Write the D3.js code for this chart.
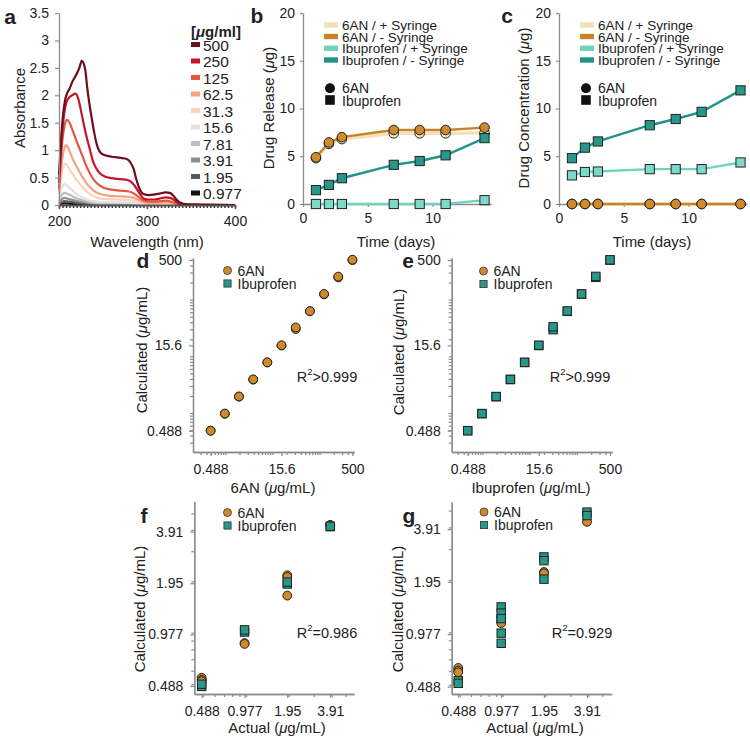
<!DOCTYPE html>
<html><head><meta charset="utf-8">
<script src="https://cdn.jsdelivr.net/npm/d3@7"></script>
<style>body{margin:0;background:#fff}</style>
</head><body>
<script>
// ---------------- DATA ----------------
// Panel a: absorbance spectra [wavelength nm, absorbance]
const concLabels = ["500","250","125","62.5","31.3","15.6","7.81","3.91","1.95","0.977"];
const spec500 = [[200,0.55],[201.5,0.95],[203,1.35],[205,1.7],[207,1.92],[209,2.03],[212,2.12],[215,2.24],[218,2.33],[221,2.42],[223.5,2.52],[225.8,2.63],[228,2.58],[230,2.45],[232,2.15],[234.5,1.85],[237,1.6],[240,1.32],[243,1.1],[246,0.98],[250,0.92],[260,0.88],[270,0.86],[277,0.84],[281,0.78],[285,0.65],[288,0.46],[292,0.28],[296,0.2],[302,0.18],[308,0.19],[315,0.21],[321,0.23],[326,0.22],[330,0.17],[334,0.09],[338,0.04],[345,0.01],[360,0.005],[400,0]];
const spec250 = [[200,0.4],[202,0.95],[205,1.55],[208,1.85],[211,1.95],[215,2.0],[219,2.03],[222,1.93],[225,1.72],[228,1.48],[232,1.2],[235,1.02],[239,0.78],[243,0.65],[247,0.57],[252,0.52],[260,0.49],[270,0.47],[277,0.46],[282,0.42],[286,0.35],[292,0.2],[296,0.12],[302,0.1],[308,0.1],[315,0.12],[321,0.14],[326,0.13],[330,0.1],[335,0.04],[340,0.01],[400,0]];
const spec125 = [[200,0.3],[202,0.8],[204,1.2],[206,1.42],[209,1.55],[212,1.5],[215,1.38],[218,1.25],[222,1.08],[226,0.92],[230,0.75],[235,0.58],[240,0.45],[245,0.37],[250,0.32],[260,0.28],[270,0.26],[278,0.25],[284,0.22],[290,0.15],[296,0.08],[305,0.06],[315,0.07],[322,0.08],[328,0.06],[335,0.02],[345,0.005],[400,0]];
const spec62 = [[200,0.25],[202,0.6],[204,0.88],[206,1.03],[208,1.09],[211,1.02],[214,0.9],[218,0.76],[222,0.64],[227,0.5],[232,0.38],[238,0.28],[245,0.21],[252,0.18],[265,0.16],[278,0.15],[285,0.13],[292,0.08],[300,0.04],[315,0.04],[322,0.05],[330,0.03],[340,0.005],[400,0]];
const spec31 = [[200,0.2],[202,0.45],[204,0.65],[207,0.75],[210,0.7],[214,0.6],[218,0.5],[223,0.4],[228,0.3],[235,0.2],[242,0.14],[250,0.11],[265,0.1],[280,0.09],[287,0.07],[295,0.03],[305,0.02],[322,0.025],[335,0.01],[400,0]];
const spec15 = [[200,0.12],[203,0.3],[206,0.38],[210,0.34],[215,0.27],[220,0.2],[226,0.14],[233,0.09],[242,0.06],[255,0.05],[280,0.045],[292,0.02],[310,0.01],[400,0]];
const spec7 = [[200,0.07],[203,0.18],[206,0.22],[210,0.2],[215,0.16],[222,0.11],[230,0.07],[240,0.04],[260,0.03],[285,0.025],[300,0.005],[400,0]];
const spec3 = [[200,0.04],[203,0.1],[206,0.13],[211,0.11],[218,0.08],[228,0.05],[240,0.025],[270,0.015],[300,0.005],[400,0]];
const spec1 = [[200,0.02],[203,0.05],[206,0.07],[212,0.06],[222,0.035],[235,0.015],[270,0.008],[300,0],[400,0]];
const spec0 = [[200,0.01],[206,0.03],[215,0.02],[230,0.008],[260,0.004],[300,0],[400,0]];
const spectra = [spec500,spec250,spec125,spec62,spec31,spec15,spec7,spec3,spec1,spec0];
const specColors = ["#6e0d1d","#c3162d","#e1583f","#f5a380","#fcd3be","#e2e2e2","#bdbdbd","#8f8f8f","#5a5a5a","#111111"];
const absTicks = [0,0.5,1,1.5,2,2.5,3,3.5];
const wlTicks = [200,300,400];

// Panels b, c: time course
const days = [1,2,3,7,9,11,14];
const rel6anPlus  = [4.8,6.3,6.8,7.4,7.4,7.4,7.45];
const rel6anMinus = [4.9,6.45,7.0,7.75,7.75,7.75,8.0];
const relIbuPlus  = [0,0,0,0,0,0,0.4];
const relIbuMinus = [1.45,2.0,2.7,4.1,4.5,5.1,6.9];
const con6anPlus  = [0,0,0,0,0,0,0];
const con6anMinus = [0,0,0,0,0,0,0];
const conIbuPlus  = [3.0,3.35,3.4,3.65,3.65,3.65,4.35];
const conIbuMinus = [4.8,5.9,6.55,8.25,8.9,9.65,11.9];
const seriesNames = ["6AN / + Syringe","6AN / - Syringe","Ibuprofen / + Syringe","Ibuprofen / - Syringe"];
const timeTicks = [0,5,10];
const drugTicks = [0,5,10,15,20];

// Panels d, e: standard curves
const stdConc = [0.488,0.977,1.95,3.91,7.81,15.6,31.3,62.5,125,250,500];
const d6anRep1 = [0.49,0.97,1.95,3.88,7.8,15.5,30.3,62.3,124,246,498];
const d6anRep2 = [0.487,0.98,1.96,3.93,7.83,15.7,32.3,62.8,126,255,505];
const eIbuRep1 = [0.49,0.975,1.94,3.9,7.8,15.5,29.5,62,125,247,497];
const eIbuRep2 = [0.488,0.98,1.96,3.92,7.82,15.7,33.2,63,126,257,503];
const stdTickVals = [0.488,15.6,500];
const stdTickLabels = ["0.488","15.6","500"];

// Panels f, g: low concentration accuracy
const f6anActual = [0.488,0.488,0.488,0.977,0.977,1.95,1.95,1.95,3.91,3.91];
const f6anCalc   = [0.545,0.53,0.52,0.87,0.86,2.17,2.12,1.65,4.28,4.25];
const fIbuActual = [0.488,0.488,0.977,0.977,1.95,1.95,3.91,3.91];
const fIbuCalc   = [0.485,0.5,1.01,1.04,1.93,1.98,4.18,4.2];
const g6anActual = [0.488,0.488,0.488,0.977,0.977,0.977,1.95,1.95,3.91];
const g6anCalc   = [0.625,0.604,0.59,1.22,1.17,1.13,2.22,2.18,4.31];
const gIbuActual = [0.488,0.488,0.977,0.977,0.977,0.977,0.977,1.95,1.95,1.95,3.91,3.91];
const gIbuCalc   = [0.528,0.51,1.4,1.29,1.2,0.99,0.866,2.71,2.58,2.02,4.9,4.68];
const lowTickVals = [0.488,0.977,1.95,3.91];
const lowTickLabels = ["0.488","0.977","1.95","3.91"];

// ---------------- STYLE ----------------
const FONT = "'Liberation Sans', Arial, Helvetica, sans-serif";
const AXC = "#8c8c8c", TXT = "#222";
const C6 = "#d08a2c", C6pale = "#f5e3c4", CI = "#27978a", CIpale = "#7fd9c8";
const C6line = "#c98326", C6paleLine = "#f4dfb8", CIline = "#1f958a", CIpaleLine = "#6fd3c0";

const svg = d3.select("body").append("svg").attr("width",750).attr("height",739)
  .style("font-family",FONT);

function addText(x,y,pieces,opt={}){
  const t = svg.append("text").attr("x",x).attr("y",y)
    .attr("text-anchor",opt.anchor||"middle")
    .attr("font-size",opt.size||15)
    .attr("font-weight",opt.bold?"bold":null)
    .attr("fill",opt.fill||TXT)
    .attr("dominant-baseline","central");
  if(opt.rotate) t.attr("transform",`rotate(-90,${x},${y})`);
  pieces.forEach(p=>{
    if(typeof p==="string"){ t.append("tspan").text(p); return; }
    const s=t.append("tspan").text(p.t);
    if(p.i) s.attr("font-style","italic");
    if(p.sup) s.attr("baseline-shift","super").attr("font-size","65%");
  });
  return t;
}
function styleAxis(g,opt={}){
  g.attr("font-size",opt.fs||14).attr("font-family",FONT);
  g.select(".domain").attr("stroke",opt.color||AXC).attr("stroke-width",opt.sw||1.3);
  g.selectAll(".tick line").attr("stroke",opt.color||AXC).attr("stroke-width",opt.sw||1.2);
  g.selectAll(".tick text").attr("fill",TXT);
}
const mu = {t:"\u03BC",i:true};

// ---------------- PANEL A ----------------
{
  const x = d3.scaleLinear().domain([200,400]).range([59,235]);
  const y = d3.scaleLinear().domain([0,3.5]).range([205,13]);
  const line = d3.line().x(d=>x(d[0])).y(d=>y(d[1])).curve(d3.curveMonotoneX);
  const gl = svg.append("g");
  spectra.map((s,i)=>({s,i})).reverse().forEach(({s,i})=>{
    gl.append("path").attr("d",line(s)).attr("fill","none")
      .attr("stroke",specColors[i]).attr("stroke-width",2.2);
  });
  const minor = d3.range(200,401,4);
  const gxm = svg.append("g").attr("transform","translate(0,205)")
    .call(d3.axisBottom(x).tickValues(minor).tickFormat("").tickSize(3).tickSizeOuter(0));
  styleAxis(gxm,{color:"#333",sw:1.5});
  const gx = svg.append("g").attr("transform","translate(0,205)")
    .call(d3.axisBottom(x).tickValues(wlTicks).tickSize(4).tickPadding(7).tickSizeOuter(0));
  styleAxis(gx,{color:"#555",sw:1.5});
  const gy = svg.append("g").attr("transform","translate(59,0)")
    .call(d3.axisLeft(y).tickValues(absTicks).tickFormat(d3.format("~g")).tickSize(4).tickPadding(6).tickSizeOuter(0));
  styleAxis(gy);
  addText(10,16,["a"],{size:21,bold:true,anchor:"middle"});
  addText(19,108,["Absorbance"],{rotate:true});
  addText(147,241,["Wavelength (nm)"]);
  // legend
  addText(191,31,["[",mu,"g/ml]"],{anchor:"start",bold:true,size:15});
  concLabels.forEach((c,i)=>{
    const yy = 44.5 + i*16.5;
    svg.append("rect").attr("x",191).attr("y",yy-2.5).attr("width",9).attr("height",5).attr("fill",specColors[i]);
    addText(203,yy,[c],{anchor:"start",size:15.5});
  });
}

// ---------------- PANELS B, C ----------------
function timePanel(x0, vals, letter, letterX, ylab, ylabX){
  const x = d3.scaleLinear().domain([0,14.5]).range([x0,x0+188]);
  const y = d3.scaleLinear().domain([0,20]).range([204,13]);
  const gx = svg.append("g").attr("transform","translate(0,204)")
    .call(d3.axisBottom(x).tickValues(timeTicks).tickSize(3).tickPadding(6).tickSizeOuter(0));
  styleAxis(gx);
  const gy = svg.append("g").attr("transform",`translate(${x0},0)`)
    .call(d3.axisLeft(y).tickValues(drugTicks).tickSize(3).tickPadding(5).tickSizeOuter(0));
  styleAxis(gy);
  const line = d3.line().x((d,i)=>x(days[i])).y(d=>y(d));
  const specs = [
    {v:vals[0], lc:C6paleLine, fc:C6pale, shape:"c", lw:3.2},
    {v:vals[1], lc:C6line, fc:C6, shape:"c", lw:2.4},
    {v:vals[3], lc:CIline, fc:CI, shape:"s", lw:2.4},
    {v:vals[2], lc:CIpaleLine, fc:CIpale, shape:"s", lw:2.4}
  ];
  specs.forEach(s=>{
    svg.append("path").attr("d",line(s.v)).attr("fill","none").attr("stroke",s.lc).attr("stroke-width",s.lw);
  });
  specs.forEach(s=>{
    s.v.forEach((v,i)=>{
      if(s.shape==="c") svg.append("circle").attr("cx",x(days[i])).attr("cy",y(v)).attr("r",4.8)
        .attr("fill",s.fc).attr("stroke","#222").attr("stroke-width",1);
      else svg.append("rect").attr("x",x(days[i])-4.6).attr("y",y(v)-4.6).attr("width",9.2).attr("height",9.2)
        .attr("fill",s.fc).attr("stroke","#222").attr("stroke-width",1);
    });
  });
  // legend
  const legCols = [C6paleLine, C6line, CIpaleLine, CIline];
  const legY = [25,36.5,48.3,60];
  const lx = x0 + 21;
  seriesNames.forEach((n,i)=>{
    svg.append("rect").attr("x",lx).attr("y",legY[i]-2.7).attr("width",14).attr("height",5.4).attr("fill",legCols[i]);
    addText(lx+18,legY[i],[n],{anchor:"start",size:13.5});
  });
  svg.append("circle").attr("cx",lx+6).attr("cy",88.3).attr("r",5).attr("fill","#111");
  svg.append("rect").attr("x",lx+1.2).attr("y",100-4.8).attr("width",9.6).attr("height",9.6).attr("fill","#111");
  addText(lx+18,88.3,["6AN"],{anchor:"start",size:14});
  addText(lx+18,100.5,["Ibuprofen"],{anchor:"start",size:14});
  addText(letterX,15,[letter],{size:21,bold:true});
  addText(ylabX,108,ylab,{rotate:true});
  addText(x0+93,241,["Time (days)"]);
}
timePanel(303,[rel6anPlus,rel6anMinus,relIbuPlus,relIbuMinus],"b",257,["Drug Release (",mu,"g)"],268);
timePanel(559,[con6anPlus,con6anMinus,conIbuPlus,conIbuMinus],"c",507,["Drug Concentration (",mu,"g)"],523);

// ---------------- LOG SCATTER PANELS ----------------
function minorVals(dom){
  const out=[];
  for(let e=-2;e<=3;e++) for(let k=1;k<=9;k++){
    const v=k*Math.pow(10,e);
    if(v>=dom[0] && v<=dom[1]) out.push(v);
  }
  return out;
}
function scatterPanel(cfg){
  const x = d3.scaleLog().domain(cfg.xd).range(cfg.xr);
  const y = d3.scaleLog().domain(cfg.yd).range(cfg.yr);
  const y0 = cfg.yr[0], x0 = cfg.xr[0];
  const gxm = svg.append("g").attr("transform",`translate(0,${y0})`)
    .call(d3.axisBottom(x).tickValues(minorVals(cfg.xd)).tickFormat("").tickSize(3).tickSizeOuter(0));
  styleAxis(gxm);
  const gx = svg.append("g").attr("transform",`translate(0,${y0})`)
    .call(d3.axisBottom(x).tickValues(cfg.ticks).tickFormat((d,i)=>cfg.tickLabels[i]).tickSize(4).tickPadding(cfg.xpad).tickSizeOuter(0));
  styleAxis(gx);
  const gym = svg.append("g").attr("transform",`translate(${x0},0)`)
    .call(d3.axisLeft(y).tickValues(minorVals(cfg.yd)).tickFormat("").tickSize(3).tickSizeOuter(0));
  styleAxis(gym);
  const gy = svg.append("g").attr("transform",`translate(${x0},0)`)
    .call(d3.axisLeft(y).tickValues(cfg.ticks).tickFormat((d,i)=>cfg.tickLabels[i]).tickSize(4).tickPadding(7).tickSizeOuter(0));
  styleAxis(gy);
  cfg.circles.forEach(([ax,cy])=>{
    ax.forEach((a,i)=>svg.append("circle").attr("cx",x(a)).attr("cy",y(cy[i])).attr("r",4.4)
      .attr("fill",C6).attr("stroke","#222").attr("stroke-width",1));
  });
  cfg.squares.forEach(([ax,cy])=>{
    ax.forEach((a,i)=>svg.append("rect").attr("x",x(a)-4.2).attr("y",y(cy[i])-4.2).attr("width",8.4).attr("height",8.4)
      .attr("fill",CI).attr("stroke","#222").attr("stroke-width",1));
  });
  // legend
  const [lx,ly] = cfg.leg;
  svg.append("circle").attr("cx",lx).attr("cy",ly).attr("r",4).attr("fill",C6).attr("stroke","#333").attr("stroke-width",0.8);
  svg.append("rect").attr("x",lx-3.6).attr("y",ly+13-3.6).attr("width",7.2).attr("height",7.2).attr("fill",CI).attr("stroke","#333").attr("stroke-width",0.8);
  addText(lx+10,ly,["6AN"],{anchor:"start",size:14});
  addText(lx+10,ly+13,["Ibuprofen"],{anchor:"start",size:14});
  addText(cfg.r2[0],cfg.r2[1],cfg.r2[2],{size:14.5});
  addText(cfg.letter[0],cfg.letter[1],[cfg.letter[2]],{size:21,bold:true});
  addText(cfg.ylab[0],cfg.ylab[1],["Calculated (",mu,"g/mL)"],{rotate:true});
  addText(cfg.xlab[0],cfg.xlab[1],cfg.xlabT);
}
scatterPanel({xd:[0.206,540],xr:[193,354],yd:[0.2056,542],yr:[452,258],
  ticks:stdTickVals,tickLabels:stdTickLabels,xpad:8,
  circles:[[stdConc,d6anRep1],[stdConc,d6anRep2]],squares:[],
  leg:[227.5,270.5],r2:[327,377,["R",{t:"2",sup:true},">0.999"]],
  letter:[143,260,"d"],ylab:[141,350],xlab:[273,487],xlabT:["6AN (",mu,"g/mL)"]});
scatterPanel({xd:[0.224,551],xr:[451.7,612],yd:[0.2056,542],yr:[452,258],
  ticks:stdTickVals,tickLabels:stdTickLabels,xpad:8,
  circles:[],squares:[[stdConc,eIbuRep1],[stdConc,eIbuRep2]],
  leg:[483.5,271],r2:[580,377,["R",{t:"2",sup:true},">0.999"]],
  letter:[408,260,"e"],ylab:[398,352],xlab:[531,487],xlabT:["Ibuprofen (",mu,"g/mL)"]});
scatterPanel({xd:[0.433,5.74],xr:[194.3,354],yd:[0.438,5.85],yr:[694,501.7],
  ticks:lowTickVals,tickLabels:lowTickLabels,xpad:8,
  circles:[[f6anActual,f6anCalc]],squares:[[fIbuActual,fIbuCalc]],
  leg:[227.5,512.5],r2:[327,633,["R",{t:"2",sup:true},"=0.986"]],
  letter:[144,515,"f"],ylab:[139,609],xlab:[277,727],xlabT:["Actual (",mu,"g/mL)"]});
scatterPanel({xd:[0.439,5.83],xr:[451.7,611.7],yd:[0.443,5.6],yr:[694,502],
  ticks:lowTickVals,tickLabels:lowTickLabels,xpad:8,
  circles:[[g6anActual,g6anCalc]],squares:[[gIbuActual,gIbuCalc]],
  leg:[484,512],r2:[582,633,["R",{t:"2",sup:true},"=0.929"]],
  letter:[409,515,"g"],ylab:[397,609],xlab:[535,727],xlabT:["Actual (",mu,"g/mL)"]});
</script>
</body></html>
